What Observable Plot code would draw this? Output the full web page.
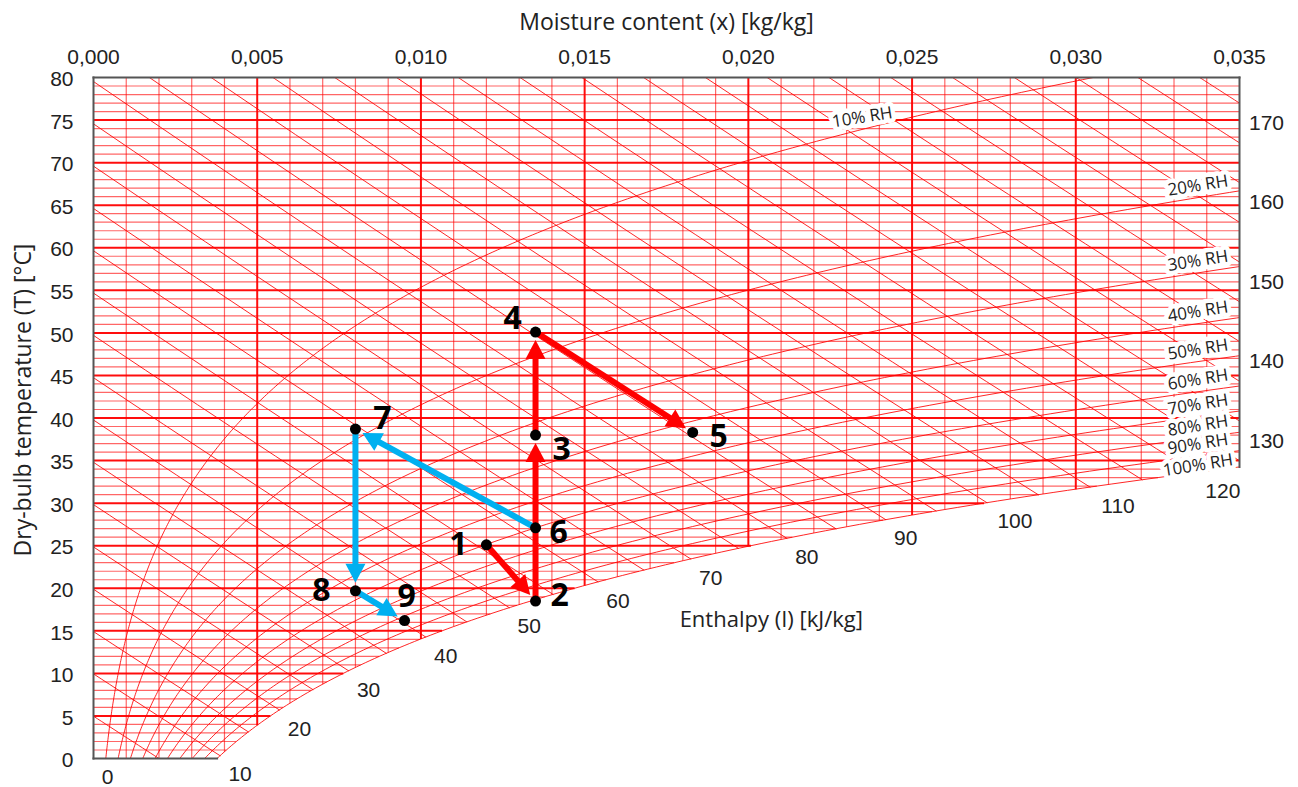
<!DOCTYPE html>
<html>
<head>
<meta charset="utf-8">
<script src="https://cdn.jsdelivr.net/npm/d3@7"></script>
<script src="https://cdn.jsdelivr.net/npm/@observablehq/plot@0.6"></script>
<style>
  html, body { margin: 0; padding: 0; background: #fff; }
  #chart svg { display: block; }
</style>
</head>
<body>
<div id="chart"></div>
<script>
// ---------------- data ----------------
const moistureTicks = [0, 0.005, 0.010, 0.015, 0.020, 0.025, 0.030, 0.035];
const temperatureTicks = [0, 5, 10, 15, 20, 25, 30, 35, 40, 45, 50, 55, 60, 65, 70, 75, 80];
const rhLevels = [10, 20, 30, 40, 50, 60, 70, 80, 90, 100];
const enthalpyLevels = [5, 10, 15, 20, 25, 30, 35, 40, 45, 50, 55, 60, 65, 70, 75, 80, 85, 90,
  95, 100, 105, 110, 115, 120, 125, 130, 135, 140, 145, 150, 155, 160, 165, 170];
const enthalpyLabelValues = [0, 10, 20, 30, 40, 50, 60, 70, 80, 90, 100, 110, 120, 130, 140, 150, 160, 170];
const pointIds = [1, 2, 3, 4, 5, 6, 7, 8, 9];
const pointX = [0.0120, 0.0135, 0.0135, 0.0135, 0.0183, 0.0135, 0.0080, 0.0080, 0.0095];
const pointT = [25.1, 18.5, 38.0, 50.1, 38.3, 27.1, 38.7, 19.7, 16.2];
const redArrows = [[1, 2], [2, 3], [3, 4], [4, 5]];
const blueArrows = [[6, 7], [7, 8], [8, 9]];
const atmosphericPressure = 101325; // Pa

// ---------------- layout ----------------
const W = 1298, H = 787, mL = 93, mR = 59, mT = 77, mB = 29;
const X_MAX = 0.035, T_MAX = 80;
const px = d3.scaleLinear([0, X_MAX], [mL, W - mR]);
const py = d3.scaleLinear([0, T_MAX], [H - mB, mT]);
const RED = "#ff0000", BLUE = "#00b0f0", INK = "#222";
const CAL = "'Open Sans', 'Noto Sans', sans-serif";
const ARIAL = "'Liberation Sans', Arial, sans-serif";

// ---------------- psychrometrics ----------------
function pws(T) { return 611.21 * Math.exp((18.678 - T / 234.5) * (T / (257.14 + T))); }
function xSat(T, phi = 1) { const p = phi * pws(T); return 0.622 * p / (atmosphericPressure - p); }
function tempAt(x, phi = 1) {
  let lo = -40, hi = 95;
  for (let i = 0; i < 60; i++) { const m = (lo + hi) / 2; if (xSat(m, phi) < x) lo = m; else hi = m; }
  return (lo + hi) / 2;
}
function hLineT(h, x) { return (h - 2501 * x) / (1.006 + 1.86 * x); }

// horizontal (temperature) grid, ends at saturation
const hGrid = [];
for (const T of d3.range(1, 80)) hGrid.push({T, x2: Math.min(X_MAX, xSat(T)), major: T % 5 === 0});
// vertical (moisture) grid, starts at dew point
const vGrid = [];
for (let k = 1; k < 35; k++) { const x = k / 1000; vGrid.push({x, T1: Math.max(0, tempAt(x)), major: k % 5 === 0}); }

// enthalpy lines
const hLines = [];
const hEnds = new Map();
for (const h of enthalpyLevels) {
  const xStart = h / 1.006 <= T_MAX ? 0 : (h - 1.006 * T_MAX) / (2501 + 1.86 * T_MAX);
  const xMax = Math.min(X_MAX, h / 2501);
  const g = x => xSat(hLineT(h, x)) - x;
  let xEnd = xMax;
  if (g(xMax) < 0) {
    let lo = xStart, hi = xMax;
    for (let i = 0; i < 60; i++) { const m = (lo + hi) / 2; if (g(m) > 0) lo = m; else hi = m; }
    xEnd = (lo + hi) / 2;
  }
  const n = 16;
  for (let i = 0; i <= n; i++) { const x = xStart + (xEnd - xStart) * i / n; hLines.push({h, x, T: hLineT(h, x)}); }
  hEnds.set(h, {x: xEnd, T: hLineT(h, xEnd), edge: Math.abs(xEnd - X_MAX) < 1e-9});
}

// relative humidity curves
const rhCurves = [];
for (const rh of rhLevels) {
  const phi = rh / 100;
  for (let T = 0; T <= 80.001; T += 0.25) {
    const x = xSat(T, phi);
    rhCurves.push({rh, x, T});
    if (x > 0.036) break;
  }
}
const rhLabels = rhLevels.map(rh => {
  const lx = rh === 10 ? 0.02348 : 0.03373;
  const T = tempAt(lx, rh / 100);
  const dyPx = rh === 100 ? -7 : -12;
  return {text: `${rh}% RH`, x: lx, T: py.invert(py(T) + dyPx)};
});

// enthalpy labels
const eLabels = enthalpyLabelValues.map(h => {
  let e, dx, dy;
  if (h === 0) { e = {x: 0, T: 0}; dx = 14; dy = 19; }
  else {
    e = hEnds.get(h);
    if (e.edge) { dx = 27; dy = 20; }
    else { dx = h >= 100 ? 28 : 20; dy = 19; }
  }
  return {text: String(h), x: px.invert(px(e.x) + dx), T: py.invert(py(e.T) + dy)};
});

// frame
const frameSegs = [
  {x1: 0, y1: 0, x2: 0, y2: T_MAX},
  {x1: 0, y1: T_MAX, x2: X_MAX, y2: T_MAX},
  {x1: X_MAX, y1: tempAt(X_MAX), x2: X_MAX, y2: T_MAX},
  {x1: 0, y1: 0, x2: xSat(0), y2: 0}
];

// process points
const pts = pointIds.map((id, i) => ({id, x: pointX[i], T: pointT[i]}));
const byId = new Map(pts.map(p => [p.id, p]));
const labelNudge = {1: [-28, 0], 2: [24, -5], 3: [26, 15], 4: [-23, -13], 5: [26, 4], 6: [23, 5], 7: [27, -10], 8: [-34, 0], 9: [2, -24]};
const ptLabels = pts.map(p => {
  const [dx, dy] = labelNudge[p.id];
  return {text: String(p.id), x: px.invert(px(p.x) + dx), T: py.invert(py(p.T) + dy)};
});

function buildArrows(pairs, color) {
  const shafts = [], heads = [];
  const gap = 8, headLen = 19, headW = 20;
  pairs.forEach(([a, b], k) => {
    const A = byId.get(a), B = byId.get(b);
    const ax = px(A.x), ay = py(A.T), bx = px(B.x), by = py(B.T);
    const L = Math.hypot(bx - ax, by - ay);
    const ux = (bx - ax) / L, uy = (by - ay) / L, nx = -uy, ny = ux;
    const tx = bx - ux * gap, ty = by - uy * gap;
    const sx = tx - ux * headLen, sy = ty - uy * headLen;
    shafts.push({x1: A.x, y1: A.T, x2: px.invert(sx + ux * 3), y2: py.invert(sy + uy * 3), color});
    const id = color + k;
    [[tx, ty], [sx + nx * headW / 2, sy + ny * headW / 2], [sx - nx * headW / 2, sy - ny * headW / 2], [tx, ty]]
      .forEach(([qx, qy]) => heads.push({id, x: px.invert(qx), T: py.invert(qy)}));
  });
  return {shafts, heads};
}
const red = buildArrows(redArrows, RED);
const blue = buildArrows(blueArrows, BLUE);

// ---------------- plot ----------------
const chart = Plot.plot({
  width: W, height: H,
  marginLeft: mL, marginRight: mR, marginTop: mT, marginBottom: mB,
  x: {domain: [0, X_MAX], axis: null},
  y: {domain: [0, T_MAX], axis: null},
  style: {background: "white", fontFamily: ARIAL, overflow: "visible"},
  marks: [
    Plot.link(hGrid.filter(d => !d.major), {x1: () => 0, x2: "x2", y1: "T", y2: "T", stroke: RED, strokeOpacity: 0.6, strokeWidth: 1.2}),
    Plot.link(vGrid.filter(d => !d.major), {x1: "x", x2: "x", y1: "T1", y2: () => T_MAX, stroke: RED, strokeOpacity: 0.6, strokeWidth: 1.2}),
    Plot.line(hLines, {x: "x", y: "T", z: "h", stroke: RED, strokeOpacity: 0.85, strokeWidth: 1, clip: true}),
    Plot.line(rhCurves, {x: "x", y: "T", z: "rh", stroke: RED, strokeOpacity: 0.85, strokeWidth: 1, clip: true}),
    Plot.link(hGrid.filter(d => d.major), {x1: () => 0, x2: "x2", y1: "T", y2: "T", stroke: RED, strokeOpacity: 0.95, strokeWidth: 2}),
    Plot.link(vGrid.filter(d => d.major), {x1: "x", x2: "x", y1: "T1", y2: () => T_MAX, stroke: RED, strokeOpacity: 0.95, strokeWidth: 2}),
    Plot.link(frameSegs, {x1: "x1", y1: "y1", x2: "x2", y2: "y2", stroke: "#555", strokeWidth: 2, strokeLinecap: "square"}),

    // RH labels with white halo
    Plot.text(rhLabels, {x: "x", y: "T", text: "text", rotate: -9, fontSize: 17, fontFamily: CAL, fill: INK,
      stroke: "white", strokeWidth: 9, strokeLinejoin: "round", paintOrder: "stroke"}),

    // enthalpy labels
    Plot.text(eLabels, {x: "x", y: "T", text: "text", fontSize: 21, fontFamily: ARIAL, fill: INK}),

    // tick labels
    Plot.text(moistureTicks, {x: d => d, y: () => T_MAX, dy: -20, text: d => d.toFixed(3).replace(".", ","), fontSize: 21, fontFamily: ARIAL, fill: INK}),
    Plot.text(temperatureTicks, {x: () => 0, y: d => d, dx: -20, dy: 2, textAnchor: "end", text: d => String(d), fontSize: 21, fontFamily: ARIAL, fill: INK}),

    // axis titles
    Plot.text(["Moisture content (x) [kg/kg]"], {frameAnchor: "top", lineAnchor: "middle", textAnchor: "middle", dy: -55, text: d => d, fontSize: 23, fontFamily: CAL, fill: INK}),
    Plot.text(["Dry-bulb temperature (T) [°C]"], {frameAnchor: "left", textAnchor: "middle", lineAnchor: "middle", dx: -70, dy: -18, rotate: -90, text: d => d, fontSize: 23, fontFamily: CAL, fill: INK}),
    Plot.text(["Enthalpy (I) [kJ/kg]"], {x: () => 0.0207, y: () => 16.3, text: d => d, fontSize: 22, fontFamily: CAL, fill: INK}),

    // process arrows
    Plot.link(red.shafts, {x1: "x1", y1: "y1", x2: "x2", y2: "y2", stroke: RED, strokeWidth: 6}),
    Plot.line(red.heads, {x: "x", y: "T", z: "id", fill: RED, stroke: "none"}),
    Plot.link(blue.shafts, {x1: "x1", y1: "y1", x2: "x2", y2: "y2", stroke: BLUE, strokeWidth: 6}),
    Plot.line(blue.heads, {x: "x", y: "T", z: "id", fill: BLUE, stroke: "none"}),

    // process points and labels
    Plot.dot(pts, {x: "x", y: "T", r: 5.5, fill: "black", stroke: "none"}),
    Plot.text(ptLabels, {x: "x", y: "T", text: "text", fontSize: 32, fontWeight: 700, fontFamily: CAL, fill: "black"})
  ]
});
document.getElementById("chart").appendChild(chart);
</script>
</body>
</html>
